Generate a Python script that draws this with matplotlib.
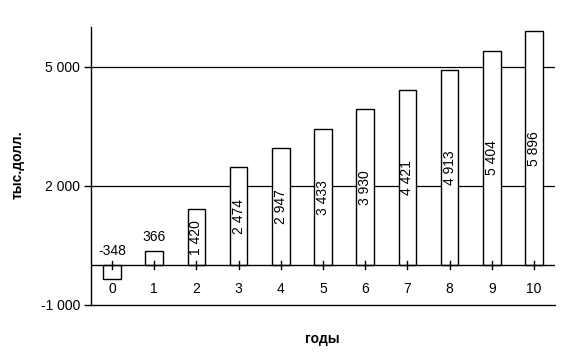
import matplotlib
matplotlib.use("Agg")
import matplotlib.pyplot as plt

years = [0, 1, 2, 3, 4, 5, 6, 7, 8, 9, 10]
values = [-348, 366, 1420, 2474, 2947, 3433, 3930, 4421, 4913, 5404, 5896]
y_ticks = [-1000, 2000, 5000]


def fmt(v):
    return f"{v:,}".replace(",", " ")


plt.rcParams['font.family'] = ['Liberation Sans', 'DejaVu Sans']

fig = plt.figure(figsize=(5.69, 3.56), dpi=100)
ax = fig.add_axes([91 / 569, 51 / 356, 464 / 569, 278 / 356])

ax.bar(years, values, width=0.42, color='white', edgecolor='black', linewidth=1, zorder=3)

ax.set_xlim(-0.5, 10.5)
ax.set_ylim(-1000, 6000)

for s in ['top', 'right']:
    ax.spines[s].set_visible(False)
ax.spines['left'].set_linewidth(1)
ax.spines['bottom'].set_linewidth(1)

ax.set_yticks(y_ticks)
ax.set_yticklabels([fmt(t) for t in y_ticks], fontsize=10)
ax.tick_params(axis='y', direction='out', length=5, width=1, pad=3)
ax.set_xticks([])

# линии сетки и нулевая ось
for t in y_ticks[1:]:
    ax.axhline(t, color='black', linewidth=0.9, zorder=1)
ax.axhline(0, color='black', linewidth=1, zorder=4)

# засечки на нулевой линии и подписи лет
for x in years:
    ax.plot([x, x], [-100, 100], color='black', linewidth=1, zorder=5)
    ax.annotate(str(x), (x, 0), xytext=(0, -17), textcoords='offset points',
                ha='center', va='center', fontsize=10)

# подписи значений
for x, v in zip(years, values):
    if v < 1000:
        base = max(v, 0)
        ax.annotate(fmt(v), (x, base), xytext=(0, 10), textcoords='offset points',
                    ha='center', va='center', fontsize=10)
    else:
        ax.text(x, v / 2, fmt(v), rotation=90, ha='center', va='center',
                fontsize=10, zorder=6)

fig.text(18 / 569, 1 - 165 / 356, 'тыс.долл.', rotation=90, ha='center', va='center',
         fontsize=10, fontweight='bold')
fig.text(322 / 569, 1 - 339 / 356, 'годы', ha='center', va='center',
         fontsize=10, fontweight='bold')

fig.savefig('out.png', dpi=100)
